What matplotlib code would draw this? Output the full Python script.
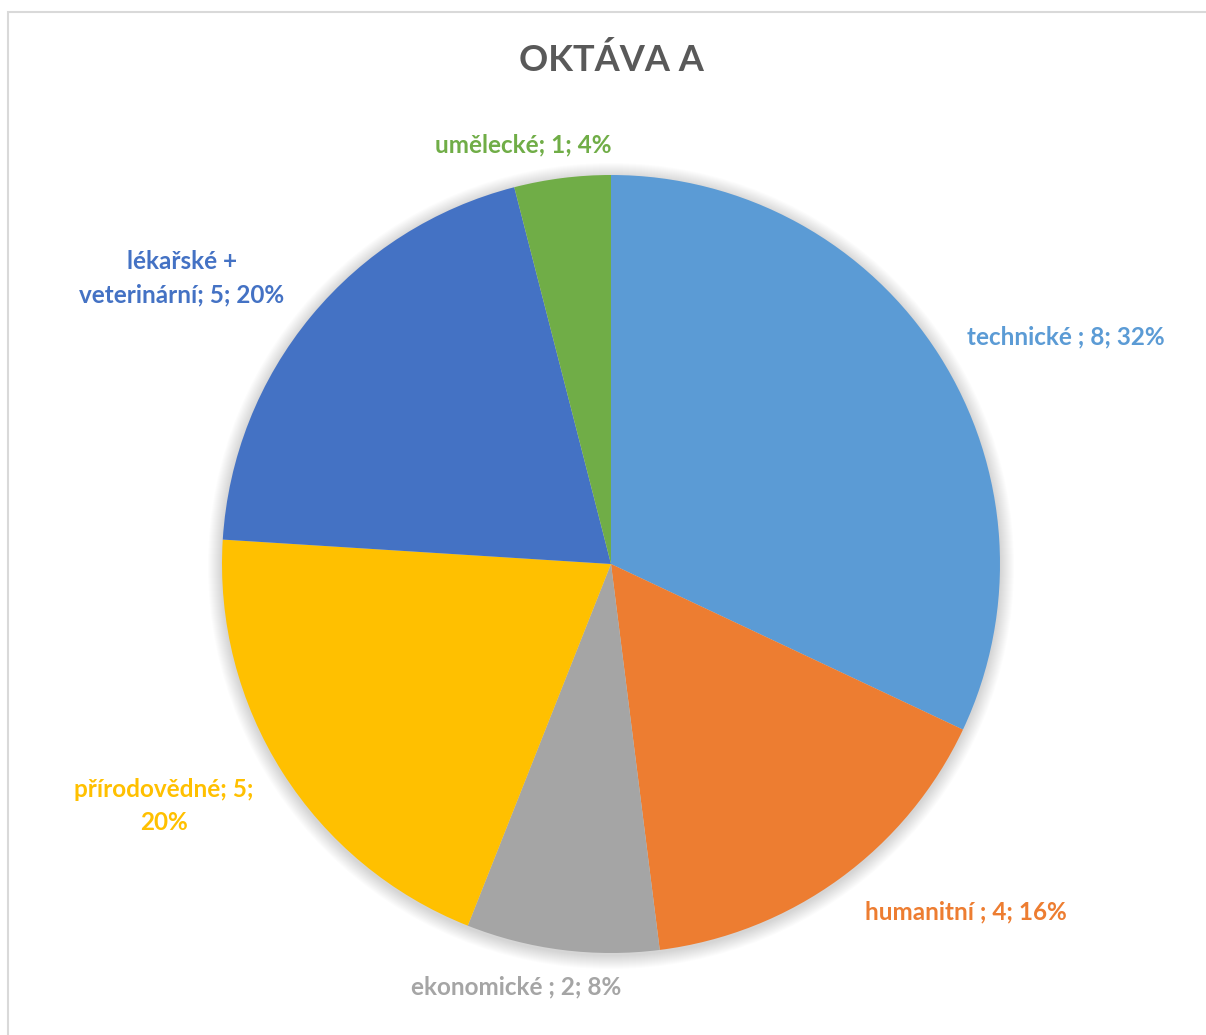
import matplotlib
matplotlib.use("Agg")
import matplotlib.pyplot as plt
from matplotlib.patches import Rectangle, Circle

categories = ["technické ", "humanitní ", "ekonomické ", "přírodovědné", "lékařské +\nveterinární", "umělecké"]
values = [8, 4, 2, 5, 5, 1]
colors = ["#5B9BD5", "#ED7D31", "#A5A5A5", "#FFC000", "#4472C4", "#70AD47"]
title = "OKTÁVA A"

# label layout (pixel positions from top-left of image), kept separate from data
label_pos = [(1066, 337), (966, 912), (516, 987), (164, 806), (182, 278), (523, 145)]
label_fmt = ["{c}; {v}; {p}%", "{c}; {v}; {p}%", "{c}; {v}; {p}%", "{c}; {v};\n{p}%", "{c}; {v}; {p}%", "{c}; {v}; {p}%"]

W, H = 1206, 1035
plt.rcParams['font.family'] = ['Lato', 'DejaVu Sans']
fig = plt.figure(figsize=(W / 100, H / 100), dpi=100)
ax = fig.add_axes([0, 0, 1, 1])
ax.set_xlim(0, W)
ax.set_ylim(0, H)
ax.set_aspect('equal')
ax.axis('off')

# chart border
ax.add_patch(Rectangle((7.5, -10), W + 20, H - 11.5 + 10, fill=False, edgecolor="#D9D9D9", linewidth=1.5, zorder=0))

cx, cy, r = 611, H - 564, 389

# soft shadow
for i in range(14):
    ax.add_patch(Circle((cx, cy - 2), r + 1 + i * 1.0, facecolor="black", edgecolor="none",
                        alpha=0.011, zorder=1))

ax.pie(values, colors=colors, startangle=90, counterclock=False, center=(cx, cy), radius=r,
       wedgeprops=dict(linewidth=0, zorder=2), frame=True)
ax.set_xlim(0, W)
ax.set_ylim(0, H)
ax.axis('off')

total = sum(values)
for cat, v, col, (px, py), fmt in zip(categories, values, colors, label_pos, label_fmt):
    pct = round(100 * v / total)
    ax.text(px, H - py, fmt.format(c=cat, v=v, p=pct), color=col, fontsize=17.5, fontweight='bold',
            ha='center', va='center', linespacing=1.55, zorder=5)

ax.text(611, H - 60, title, color="#595959", fontsize=26, fontweight='bold', ha='center', va='center', zorder=5)

fig.savefig("out.png", dpi=100)
